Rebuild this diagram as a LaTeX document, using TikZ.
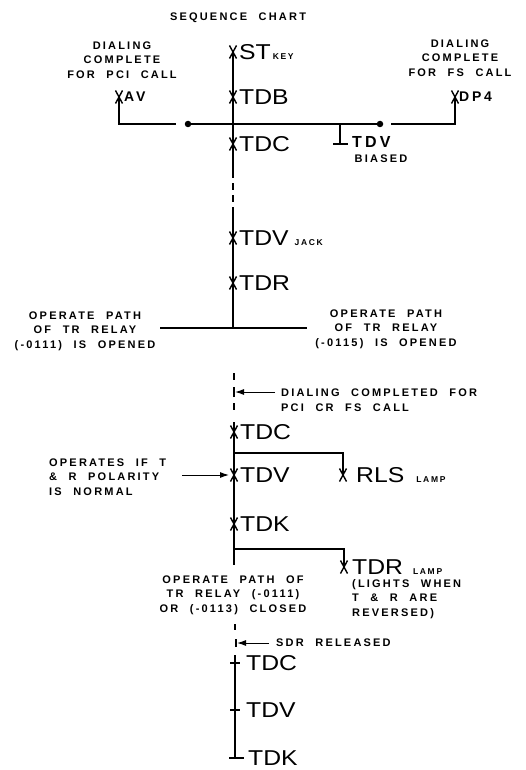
\documentclass[tikz,border=0pt]{standalone}
\usepackage{fontspec}
\usetikzlibrary{arrows.meta}
\newfontfamily\lblfont[LetterSpace=20,WordSpace=2.2]{Liberation Sans}
\newfontfamily\bigfont[FakeStretch=1.15]{Liberation Sans}
\newcommand\subtxt[1]{{\lblfont\bfseries\fontsize{8.5}{8.5}\selectfont #1}}
\begin{document}
\begin{tikzpicture}[x=1pt,y=-1pt,
  wire/.style={line width=1.3pt},
  lbl/.style={font=\lblfont\bfseries\fontsize{11}{14.5}\selectfont, inner sep=0pt},
  big/.style={font=\bigfont\fontsize{21.5}{21.5}\selectfont, inner sep=0pt, anchor=west, text height=15.5pt, text depth=0pt},
  mid/.style={font=\lblfont\bfseries\fontsize{14}{14}\selectfont, inner sep=0pt, anchor=west, text height=10pt, text depth=0pt},
  midb/.style={font=\lblfont\bfseries\fontsize{16}{16}\selectfont, inner sep=0pt, anchor=west, text height=11.5pt, text depth=0pt},
  xmark/.pic={\draw[line width=1.4pt] (-3.5,-6.5)--(3.5,6.5) (-3.5,6.5)--(3.5,-6.5);},
  arr/.style={line width=1pt, -{Latex[length=9pt,width=6pt]}},
  dot/.style={circle, fill=black, inner sep=0pt, minimum size=6.5pt}
]
\useasboundingbox (0,0) rectangle (526,770);

% ---------- coordinates ----------
\coordinate (st) at (233,52);
\coordinate (tdb) at (233,97);
\coordinate (tdc) at (233,144);
\coordinate (av) at (119,97);
\coordinate (dp4) at (455,97);
\coordinate (avc) at (119,124);
\coordinate (avend) at (176,124);
\node[dot] (dotL) at (188,124) {};
\node[dot] (dotR) at (380,124) {};
\coordinate (dpend) at (391,124);
\coordinate (dpc) at (455,124);
\coordinate (tdvb) at (340,124);
\coordinate (tdvbe) at (340,144);
\coordinate (s1) at (233,178);
\coordinate (d1a) at (233,183); \coordinate (d1b) at (233,190);
\coordinate (d2a) at (233,195); \coordinate (d2b) at (233,202);
\coordinate (s2) at (233,207);
\coordinate (tdvj) at (233,238);
\coordinate (tdr) at (233,283);
\coordinate (opj) at (233,328);
\coordinate (opL) at (160,328);
\coordinate (opR) at (307,328);
\coordinate (d3a) at (234,373); \coordinate (d3b) at (234,380);
\coordinate (tick1) at (234,392);
\coordinate (a1s) at (275,392);
\coordinate (d4a) at (234,403); \coordinate (d4b) at (234,410);
\coordinate (top2) at (234,422);
\coordinate (tdc2) at (234,432);
\coordinate (b1) at (234,453);
\coordinate (b1r) at (343,453);
\coordinate (rls) at (343,475);
\coordinate (tdv2) at (234,475);
\coordinate (a2s) at (182,475);
\coordinate (a2e) at (229,475);
\coordinate (tdk2) at (234,524);
\coordinate (b2) at (234,549);
\coordinate (b2r) at (344,549);
\coordinate (tdr2) at (344,567);
\coordinate (end2) at (234,565);
\coordinate (d5a) at (235,624); \coordinate (d5b) at (235,630);
\coordinate (tick2) at (236,643);
\coordinate (a3s) at (269,643);
\coordinate (top3) at (235,655);
\coordinate (tdc3) at (235,663);
\coordinate (tdv3) at (235,710);
\coordinate (tdk3) at (235,758);

% ---------- lines ----------
\draw[wire] (st) -- (s1);
\draw[wire] (d1a) -- (d1b) (d2a) -- (d2b);
\draw[wire] (s2) -- (opj);
\draw[wire] (opL) -- (opR);
\draw[wire] (av) -- (avc) -- (avend);
\draw[wire] (dotL) -- (dotR);
\draw[wire] (dpend) -- (dpc) -- (dp4);
\draw[wire] (tdvb) -- (tdvbe);
\draw[wire] ([xshift=-7pt]tdvbe) -- ([xshift=8pt]tdvbe);

\draw[wire] (d3a) -- (d3b) (d4a) -- (d4b);
\draw[wire] ([yshift=-5pt]tick1) -- ([yshift=5pt]tick1);
\draw[arr] (a1s) -- ([xshift=1pt]tick1);

\draw[wire] (top2) -- (end2);
\draw[wire] (b1) -- (b1r) -- (rls);
\draw[wire] (b2) -- (b2r) -- (tdr2);
\draw[arr] (a2s) -- (a2e);

\draw[wire] (d5a) -- (d5b);
\draw[wire] ([yshift=-4pt]tick2) -- ([yshift=4pt]tick2);
\draw[arr] (a3s) -- ([xshift=1pt]tick2);
\draw[wire] (top3) -- (tdk3);
\draw[wire] ([xshift=-5pt]tdc3) -- ([xshift=5pt]tdc3);
\draw[wire] ([xshift=-5pt]tdv3) -- ([xshift=5pt]tdv3);
\draw[wire] ([xshift=-6pt]tdk3) -- ([xshift=9pt]tdk3);

% ---------- marks ----------
\foreach \m in {st,tdb,tdc,av,dp4,tdvj,tdr,tdc2,tdv2,rls,tdk2,tdr2}
  \pic at (\m) {xmark};

% ---------- texts ----------
\node[lbl] (title) at (238,18) {SEQUENCE CHART};
\node[lbl,align=center] (pcil) at (122,60) {DIALING\\COMPLETE\\FOR PCI CALL};
\node[lbl,align=center] (fsl) at (460,58) {DIALING\\COMPLETE\\FOR FS CALL};
\node[mid] (avt) at (124,97) {AV};
\node[mid] (dp4t) at (459,97) {DP4};
\node[big] (stt) at (239,52) {ST\hspace{2pt}\subtxt{KEY}};
\node[big] (tdbt) at (239,97) {TDB};
\node[big] (tdct) at (239,144) {TDC};
\node[midb] (tdvbt) at (352,142) {TDV};
\node[lbl] (biased) at (381,159) {BIASED};
\node[big] (tdvjt) at (239,238) {TDV\hspace{6pt}\subtxt{JACK}};
\node[big] (tdrt) at (239,283) {TDR};
\node[lbl,align=center] (opl) at (85,331) {OPERATE PATH\\OF TR RELAY\\(-0111) IS OPENED};
\node[lbl,align=center] (opr) at (386,329) {OPERATE PATH\\OF TR RELAY\\(-0115) IS OPENED};
\node[lbl,align=left,anchor=west] (dcl) at (281,400) {DIALING COMPLETED FOR\\PCI CR FS CALL};
\node[big] (tdc2t) at (240,432) {TDC};
\node[big] (tdv2t) at (240,475) {TDV};
\node[big] (rlst) at (356,475) {RLS\hspace{12pt}\subtxt{LAMP}};
\node[lbl,align=left,anchor=west] (opsl) at (49,477) {OPERATES IF T\\\& R POLARITY\\IS NORMAL};
\node[big] (tdk2t) at (240,524) {TDK};
\node[big] (tdr2t) at (352,567) {TDR\hspace{10pt}\subtxt{LAMP}};
\node[lbl,align=left,anchor=west] (lights) at (352,599) {(LIGHTS WHEN\\T \& R ARE\\REVERSED)};
\node[lbl,align=center] (opc) at (233,595) {OPERATE PATH OF\\TR RELAY (-0111)\\OR (-0113) CLOSED};
\node[lbl,anchor=west] (sdr) at (276,643) {SDR RELEASED};
\node[big] (tdc3t) at (246,663) {TDC};
\node[big] (tdv3t) at (246,710) {TDV};
\node[big] (tdk3t) at (248,758) {TDK};
\end{tikzpicture}
\end{document}
